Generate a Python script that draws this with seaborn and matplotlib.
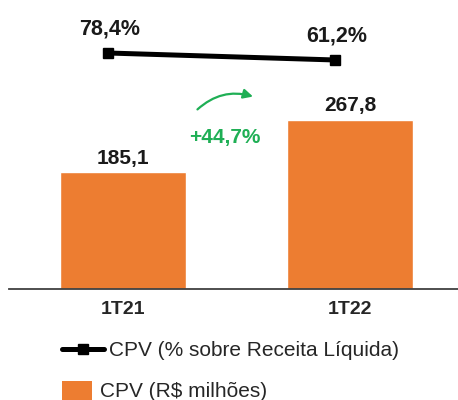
import numpy as np
import pandas as pd
import seaborn as sns
import matplotlib.pyplot as plt
from matplotlib.lines import Line2D
from matplotlib.patches import Patch, Rectangle
from matplotlib.legend_handler import HandlerPatch

## data
periods = ['1T21', '1T22']
cpv_mi = [185.1, 267.8]          # CPV (R$ milhões)
cpv_pct = [78.4, 61.2]           # CPV (% sobre Receita Líquida)
growth_label = '+44,7%'

orange = '#ED7D31'
green = '#1FAF55'

sns.set_style('white')
plt.rcParams['font.family'] = ['Liberation Sans', 'DejaVu Sans']

fig = plt.figure(figsize=(4.58, 4.0), dpi=100)
ax = fig.add_axes([9 / 458, 111 / 400, 1 - 9 / 458, 289 / 400])

df = pd.DataFrame({'periodo': periods, 'cpv': cpv_mi})
sns.barplot(data=df, x='periodo', y='cpv', color=orange, width=0.554,
            saturation=1, ax=ax)
ax.set_xlim(-0.5, 1.475)
ax.set_ylim(0, 457)
ax.set_xlabel('')
ax.set_ylabel('')
ax.set_yticks([])
ax.tick_params(axis='x', length=0, pad=9, labelsize=14)
for lbl in ax.get_xticklabels():
    lbl.set_fontweight('bold')
for s in ['top', 'left', 'right']:
    ax.spines[s].set_visible(False)
ax.spines['bottom'].set_color('#404040')
ax.spines['bottom'].set_linewidth(1.3)

ax.bar_label(ax.containers[0],
             labels=[f'{v:.1f}'.replace('.', ',') for v in cpv_mi],
             padding=3, fontsize=15, fontweight='bold', color='#1a1a1a')

## % line on secondary axis
ax2 = ax.twinx()
xs = np.arange(len(periods)) - 0.065
ax2.plot(xs, cpv_pct, color='black', lw=3.6, marker='s', ms=7.5,
         solid_capstyle='butt')
ax2.set_ylim(-501.5, 208.6)
ax2.set_yticks([])
for s in ['top', 'left', 'right', 'bottom']:
    ax2.spines[s].set_visible(False)
for x, v in zip(xs, cpv_pct):
    ax2.annotate(f'{v:.1f}%'.replace('.', ','), (x, v), xytext=(1, 17),
                 textcoords='offset points', ha='center', va='center',
                 fontsize=15.5, fontweight='bold', color='#1a1a1a')

## growth arrow
ax.annotate('', xy=(0.585, 303), xytext=(0.32, 281),
            arrowprops=dict(arrowstyle='-|>', color=green, lw=1.6,
                            connectionstyle='arc3,rad=-0.3',
                            mutation_scale=14))
ax.text(0.45, 239, growth_label, ha='center', va='center', fontsize=15,
        fontweight='bold', color=green)


## legends (two, so each handle can have its own width)
def tall_box(legend, orig_handle, xdescent, ydescent, width, height, fontsize):
    # box starts a bit above the text and runs off the bottom of the figure
    return Rectangle((-xdescent, -ydescent - 12), width, height + 12)


leg1 = fig.legend([Line2D([0], [0], color='black', lw=3.6, marker='s', ms=6.5)],
                  ['CPV (% sobre Receita Líquida)'],
                  loc='center left', bbox_to_anchor=(62 / 458, 1 - 351 / 400),
                  frameon=False, fontsize=15, handlelength=2.0,
                  handletextpad=0.25, borderpad=0, borderaxespad=0)
leg2 = fig.legend([Patch(facecolor=orange, edgecolor='none')],
                  ['CPV (R$ milhões)'],
                  loc='center left', bbox_to_anchor=(62 / 458, 1 - 391 / 400),
                  frameon=False, fontsize=15, handlelength=1.44,
                  handleheight=0.8, handletextpad=0.38, borderpad=0,
                  borderaxespad=0,
                  handler_map={Patch: HandlerPatch(patch_func=tall_box)})

fig.savefig('out.png', dpi=100)
